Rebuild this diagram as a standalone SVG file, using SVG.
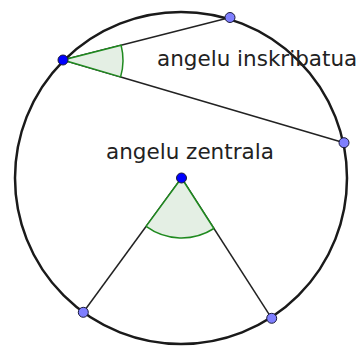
<svg xmlns="http://www.w3.org/2000/svg" width="362" height="347" viewBox="0 0 362 347">
<style>
.circ{fill:none;stroke:#1a1a1a;stroke-width:2.5}
.seg{stroke:#222;stroke-width:1.5;fill:none}
.ang{fill:#e4efe4;stroke:#1f8a1f;stroke-width:1.5;stroke-linejoin:round}
.pt{stroke:#1a1a3a;stroke-width:1}
.pt1{fill:#0000ff}
.pt2{fill:#7f7fff}
.lbl{font-family:"DejaVu Sans",sans-serif;font-size:21.5px;fill:#222}
</style>
<rect width="362" height="347" fill="#fff"/>
<g id="circle"><circle class="circ" cx="181" cy="178" r="166"/></g>
<g id="connectors">
<line class="seg" x1="63" y1="60" x2="230" y2="17.5"/>
<line class="seg" x1="63" y1="60" x2="344" y2="142.7"/>
<line class="seg" x1="181.5" y1="178" x2="83.3" y2="312.3"/>
<line class="seg" x1="181.5" y1="178" x2="271.7" y2="318.3"/>
</g>
<g id="inscribed-angle"><path class="ang" d="M63,60 L121.1,45.2 A60,60 0 0 1 120.6,76.9 Z"/></g>
<g id="central-angle"><path class="ang" d="M181.5,178 L213.9,228.5 A60,60 0 0 1 146.1,226.4 Z"/></g>
<g id="labels">
<text class="lbl" x="157" y="66">angelu inskribatua</text>
<text class="lbl" x="106" y="158.5">angelu zentrala</text>
</g>
<g id="points">
<circle class="pt pt1" cx="63" cy="60" r="5"/>
<circle class="pt pt2" cx="230" cy="17.5" r="5"/>
<circle class="pt pt2" cx="344" cy="142.7" r="5"/>
<circle class="pt pt1" cx="181.5" cy="178" r="5"/>
<circle class="pt pt2" cx="83.3" cy="312.3" r="5"/>
<circle class="pt pt2" cx="271.7" cy="318.3" r="5"/>
</g>
</svg>
